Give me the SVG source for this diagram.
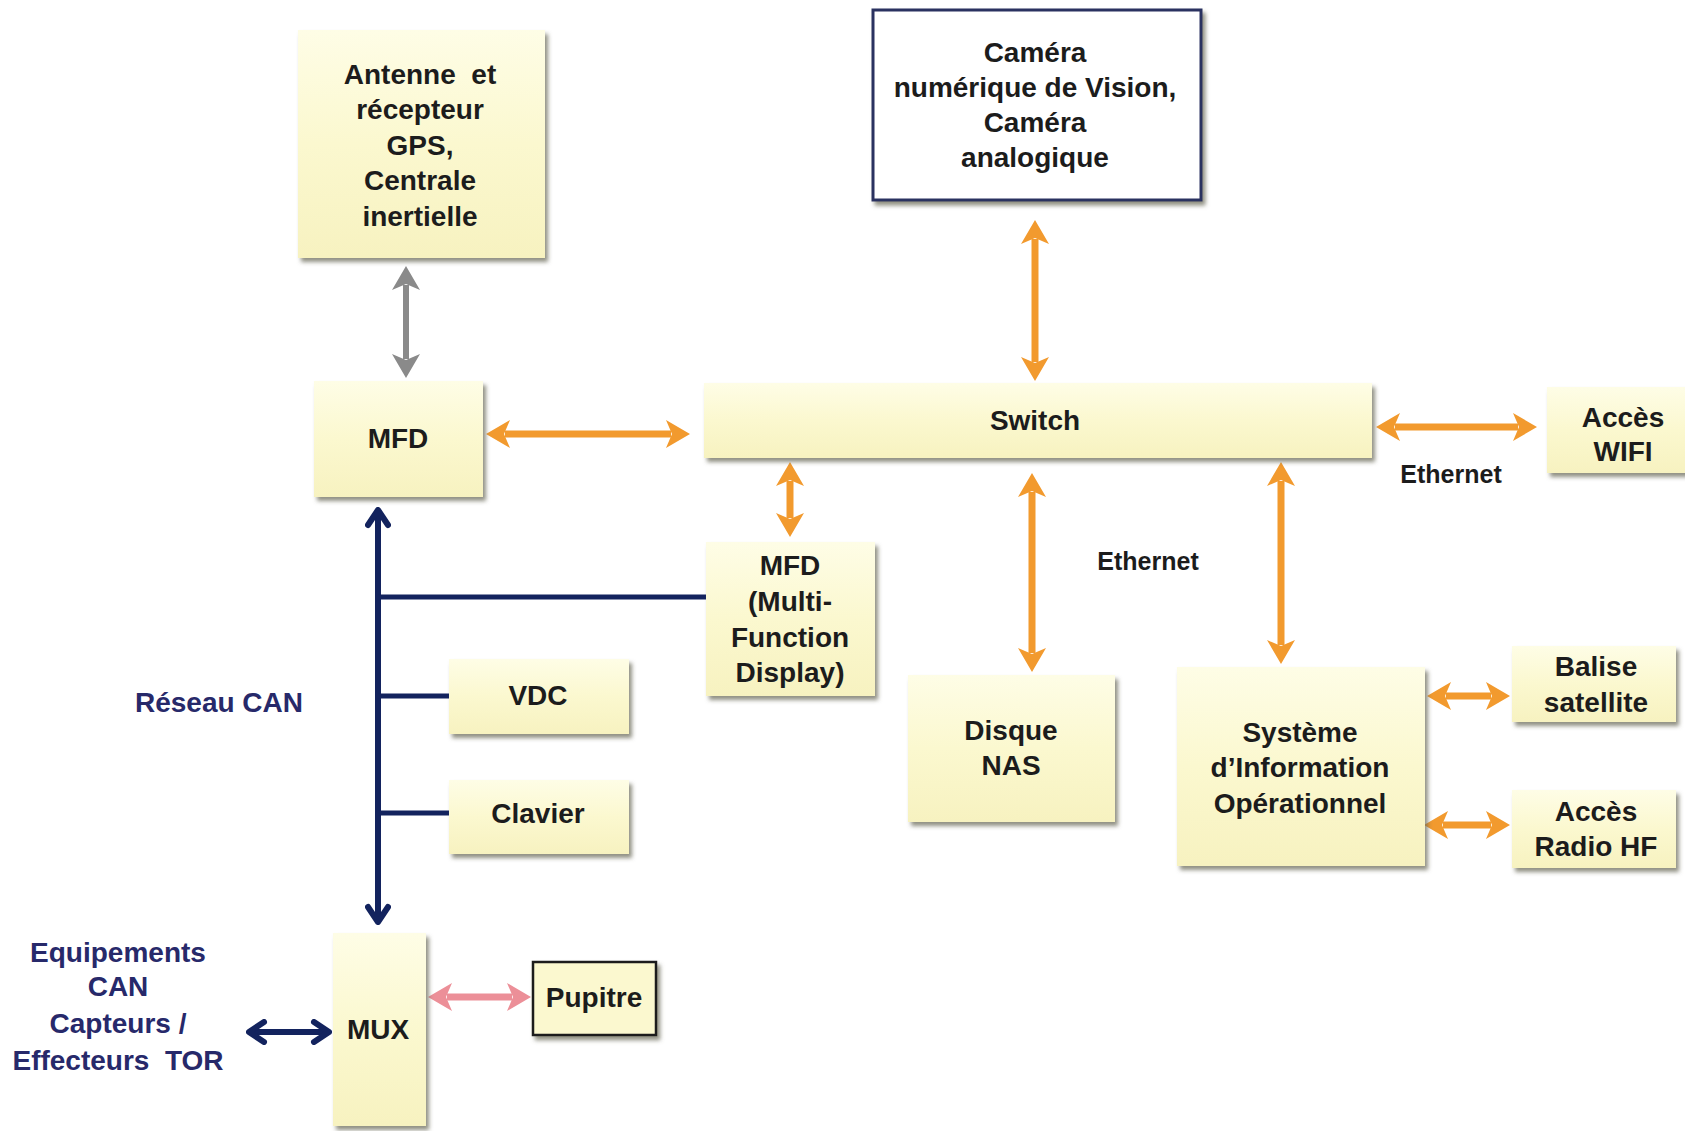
<svg xmlns="http://www.w3.org/2000/svg" width="1685" height="1131" viewBox="0 0 1685 1131">
  <defs>
    <linearGradient id="boxFill" x1="0" y1="0" x2="0" y2="1">
      <stop offset="0" stop-color="#fefde6"/>
      <stop offset="0.5" stop-color="#fbf8cf"/>
      <stop offset="1" stop-color="#f7f2c0"/>
    </linearGradient>
    <filter id="shadow" x="-10%" y="-10%" width="130%" height="130%">
      <feDropShadow dx="3" dy="4" stdDeviation="2" flood-color="#6b6b5a" flood-opacity="0.75"/>
    </filter>
    <marker id="headOrange" viewBox="0 0 24 28" refX="5" refY="14" markerWidth="24" markerHeight="28" markerUnits="userSpaceOnUse" orient="auto-start-reverse">
      <path d="M0,0 L24,14 L0,28 L6,14 z" fill="#f29a2e"/>
    </marker>
    <marker id="headGray" viewBox="0 0 24 28" refX="5" refY="14" markerWidth="24" markerHeight="28" markerUnits="userSpaceOnUse" orient="auto-start-reverse">
      <path d="M0,0 L24,14 L0,28 L6,14 z" fill="#8a8a8a"/>
    </marker>
    <marker id="headPink" viewBox="0 0 24 28" refX="5" refY="14" markerWidth="24" markerHeight="28" markerUnits="userSpaceOnUse" orient="auto-start-reverse">
      <path d="M0,0 L24,14 L0,28 L6,14 z" fill="#ec8f98"/>
    </marker>
    <marker id="chevronNavy" viewBox="0 0 22 26" refX="19" refY="13" markerWidth="22" markerHeight="26" markerUnits="userSpaceOnUse" orient="auto-start-reverse">
      <path d="M4,3 L19,13 L4,23" fill="none" stroke="#13235e" stroke-width="6" stroke-linecap="round" stroke-linejoin="round"/>
    </marker>
  </defs>
  <style>
    .box { fill: url(#boxFill); stroke: none; filter: url(#shadow); }
    .cam { fill: #ffffff; stroke: #2b3060; stroke-width: 3; filter: url(#shadow); }
    .pup { fill: #fbf8cf; stroke: #1a1a1a; stroke-width: 2.5; filter: url(#shadow); }
    text { font-family: "Liberation Sans", Arial, sans-serif; font-weight: bold; font-size: 28px; fill: #1c1c1c; text-anchor: middle; white-space: pre; }
    .navy { fill: #27296a; }
    .eth { font-size: 25px; }
    .orange { stroke: #f29a2e; stroke-width: 7; fill: none; marker-start: url(#headOrange); marker-end: url(#headOrange); }
    .gray { stroke: #8a8a8a; stroke-width: 6; fill: none; marker-start: url(#headGray); marker-end: url(#headGray); }
    .pink { stroke: #ec8f98; stroke-width: 7; fill: none; marker-start: url(#headPink); marker-end: url(#headPink); }
    .navyArrow { stroke: #13235e; stroke-width: 6; fill: none; marker-start: url(#chevronNavy); marker-end: url(#chevronNavy); }
    .bus { stroke: #13235e; stroke-width: 5; fill: none; }
  </style>
  <rect width="1685" height="1131" fill="#ffffff"/>

  <!-- connectors -->
  <g id="connectors">
    <line class="gray" x1="406" y1="285" x2="406" y2="359"/>
    <line class="orange" x1="1035" y1="239" x2="1035" y2="362"/>
    <line class="orange" x1="505" y1="434" x2="671" y2="434"/>
    <line class="orange" x1="790" y1="481" x2="790" y2="518"/>
    <line class="orange" x1="1032" y1="492" x2="1032" y2="653"/>
    <line class="orange" x1="1281" y1="481" x2="1281" y2="645"/>
    <line class="orange" x1="1395" y1="427" x2="1518" y2="427"/>
    <line class="orange" x1="1446" y1="696" x2="1491" y2="696"/>
    <line class="orange" x1="1443" y1="825" x2="1491" y2="825"/>
    <line class="pink" x1="447" y1="997" x2="512" y2="997"/>
    <line class="navyArrow" x1="249" y1="1032" x2="329" y2="1032"/>
    <!-- CAN bus trunk and branches -->
    <line class="navyArrow" x1="378" y1="510" x2="378" y2="922"/>
    <line class="bus" x1="378" y1="597" x2="706" y2="597"/>
    <line class="bus" x1="378" y1="696" x2="449" y2="696"/>
    <line class="bus" x1="378" y1="813" x2="449" y2="813"/>
  </g>

  <!-- nodes -->
  <g id="antenne">
    <rect class="box" x="298" y="30" width="247" height="228"/>
    <text x="420" y="84" xml:space="preserve">Antenne  et</text>
    <text x="420" y="119">récepteur</text>
    <text x="420" y="155">GPS,</text>
    <text x="420" y="190">Centrale</text>
    <text x="420" y="226">inertielle</text>
  </g>
  <g id="camera">
    <rect class="cam" x="873" y="10" width="328" height="190"/>
    <text x="1035" y="62">Caméra</text>
    <text x="1035" y="97">numérique de Vision,</text>
    <text x="1035" y="132">Caméra</text>
    <text x="1035" y="167">analogique</text>
  </g>
  <g id="mfd">
    <rect class="box" x="314" y="381" width="169" height="116"/>
    <text x="398" y="448">MFD</text>
  </g>
  <g id="switch">
    <rect class="box" x="704" y="383" width="668" height="75"/>
    <text x="1035" y="430">Switch</text>
  </g>
  <g id="wifi">
    <rect class="box" x="1547" y="387" width="160" height="86"/>
    <text x="1623" y="427">Accès</text>
    <text x="1623" y="461">WIFI</text>
  </g>
  <g id="mfd-display">
    <rect class="box" x="706" y="542" width="169" height="154"/>
    <text x="790" y="575">MFD</text>
    <text x="790" y="611">(Multi-</text>
    <text x="790" y="647">Function</text>
    <text x="790" y="682">Display)</text>
  </g>
  <g id="nas">
    <rect class="box" x="908" y="675" width="207" height="147"/>
    <text x="1011" y="740">Disque</text>
    <text x="1011" y="775">NAS</text>
  </g>
  <g id="sio">
    <rect class="box" x="1177" y="667" width="248" height="199"/>
    <text x="1300" y="742">Système</text>
    <text x="1300" y="777">d’Information</text>
    <text x="1300" y="813">Opérationnel</text>
  </g>
  <g id="balise">
    <rect class="box" x="1512" y="646" width="164" height="76"/>
    <text x="1596" y="676">Balise</text>
    <text x="1596" y="712">satellite</text>
  </g>
  <g id="radio">
    <rect class="box" x="1512" y="790" width="164" height="78"/>
    <text x="1596" y="821">Accès</text>
    <text x="1596" y="856">Radio HF</text>
  </g>
  <g id="vdc">
    <rect class="box" x="449" y="659" width="180" height="75"/>
    <text x="538" y="705">VDC</text>
  </g>
  <g id="clavier">
    <rect class="box" x="449" y="780" width="180" height="74"/>
    <text x="538" y="823">Clavier</text>
  </g>
  <g id="mux">
    <rect class="box" x="333" y="933" width="93" height="193"/>
    <text x="378" y="1039">MUX</text>
  </g>
  <g id="pupitre">
    <rect class="pup" x="533" y="962" width="123" height="73"/>
    <text x="594" y="1007">Pupitre</text>
  </g>

  <!-- free labels -->
  <g id="labels">
    <text class="navy" x="219" y="712">Réseau CAN</text>
    <text class="navy" x="118" y="962">Equipements</text>
    <text class="navy" x="118" y="996">CAN</text>
    <text class="navy" x="118" y="1033">Capteurs /</text>
    <text class="navy" x="118" y="1070" xml:space="preserve">Effecteurs  TOR</text>
    <text class="eth" x="1148" y="570">Ethernet</text>
    <text class="eth" x="1451" y="483">Ethernet</text>
  </g>
</svg>
